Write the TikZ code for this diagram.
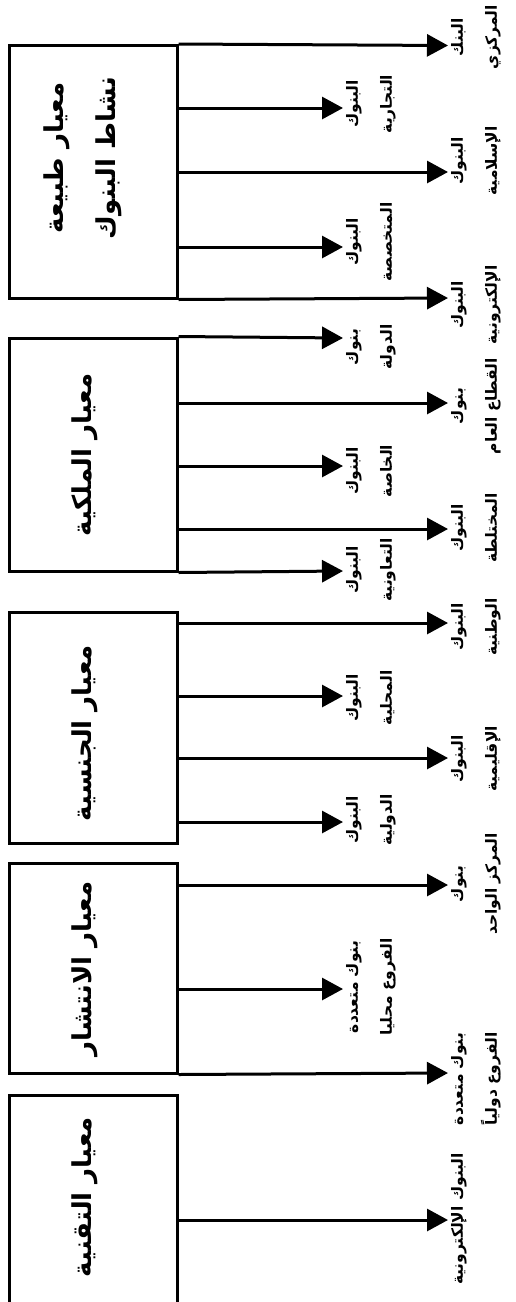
\documentclass[tikz,border=0pt]{standalone}
\usepackage{fontspec}
\usetikzlibrary{arrows.meta}
\TeXXeTstate=1
\newfontfamily\arabicfont[Script=Arabic]{DejaVu Sans}
\tikzset{
  box/.style={draw, line width=3pt, inner sep=0pt, rectangle},
  ttl/.style={rotate=90, font=\arabicfont\bfseries\fontsize{26}{52}\selectfont, align=center, inner sep=0pt},
  lbl/.style={rotate=90, anchor=north, font=\arabicfont\bfseries\fontsize{15.5}{34}\selectfont, align=center, inner sep=0pt},
  arr/.style={line width=3pt, -{Triangle[length=21pt,width=22pt]}},
}
\begin{document}
\begin{tikzpicture}[x=1pt,y=-1pt]
\useasboundingbox (0,0) rectangle (516,1302);
\fill[white] (0,0) rectangle (516,1302);
\clip (0,0) rectangle (516,1302);
% boxes
\node[box, minimum width=167.5pt, minimum height=252.5pt] (b1) at (93.25,171.75) {};
\node[box, minimum width=167.5pt, minimum height=233pt] (b2) at (93.25,454.5) {};
\node[box, minimum width=167.5pt, minimum height=231pt] (b3) at (93.25,727.5) {};
\node[box, minimum width=167.5pt, minimum height=210pt] (b4) at (93.25,968) {};
\node[box, minimum width=167.5pt, minimum height=235pt] (b5) at (93.25,1212.5) {};
% titles
\node[ttl] (t1) at (83,158) {\beginR معيار طبيعة\endR\\\beginR نشاط البنوك\endR};
\node[ttl] (t2) at (85,455) {\beginR معيار الملكية\endR};
\node[ttl] (t3) at (85,733) {\beginR معيار الجنسية\endR};
\node[ttl] (t4) at (85,969) {\beginR معيار الانتشار\endR};
\node[ttl] (t5) at (85,1197) {\beginR معيار التقنية\endR};
% arrow tips
\coordinate (e11) at (448,45.5);
\coordinate (e12) at (343,108);
\coordinate (e13) at (448,172);
\coordinate (e14) at (343,247);
\coordinate (e15) at (448,298);
\coordinate (e21) at (343,338);
\coordinate (e22) at (448,403);
\coordinate (e23) at (343,466);
\coordinate (e24) at (448,529);
\coordinate (e25) at (343,571);
\coordinate (e31) at (448,623);
\coordinate (e32) at (343,696);
\coordinate (e33) at (448,758);
\coordinate (e34) at (343,822);
\coordinate (e41) at (448,885);
\coordinate (e42) at (343,989);
\coordinate (e43) at (448,1073);
\coordinate (e51) at (448,1220);
% connectors
\draw[arr] (b1.north east) -- (e11);
\draw[arr] (b1.east |- e12) -- (e12);
\draw[arr] (b1.east |- e13) -- (e13);
\draw[arr] (b1.east |- e14) -- (e14);
\draw[arr] (b1.south east) -- (e15);
\draw[arr] (b2.north east) -- (e21);
\draw[arr] (b2.east |- e22) -- (e22);
\draw[arr] (b2.east |- e23) -- (e23);
\draw[arr] (b2.east |- e24) -- (e24);
\draw[arr] (b2.south east) -- (e25);
\draw[arr] (b3.east |- e31) -- (e31);
\draw[arr] (b3.east |- e32) -- (e32);
\draw[arr] (b3.east |- e33) -- (e33);
\draw[arr] (b3.east |- e34) -- (e34);
\draw[arr] (b4.east |- e41) -- (e41);
\draw[arr] (b4.east |- e42) -- (e42);
\draw[arr] (b4.south east) -- (e43);
\draw[arr] (b5.east |- e51) -- (e51);
% labels
\node[lbl] (l11) at (451,37) {\beginR البنك\endR\\\beginR المركزي\endR};
\node[lbl] (l12) at (346,104) {\beginR البنوك\endR\\\beginR التجارية\endR};
\node[lbl] (l13) at (451,161) {\beginR البنوك\endR\\\beginR الإسلامية\endR};
\node[lbl] (l14) at (346,242) {\beginR البنوك\endR\\\beginR المتخصصة\endR};
\node[lbl] (l15) at (451,305) {\beginR البنوك\endR\\\beginR الإلكترونية\endR};
\node[lbl] (l21) at (346,347) {\beginR بنوك\endR\\\beginR الدولة\endR};
\node[lbl] (l22) at (451,406) {\beginR بنوك\endR\\\beginR القطاع العام\endR};
\node[lbl] (l23) at (346,471) {\beginR البنوك\endR\\\beginR الخاصة\endR};
\node[lbl] (l24) at (451,528) {\beginR البنوك\endR\\\beginR المختلطة\endR};
\node[lbl] (l25) at (346,570) {\beginR البنوك\endR\\\beginR التعاونية\endR};
\node[lbl] (l31) at (451,627) {\beginR البنوك\endR\\\beginR الوطنية\endR};
\node[lbl] (l32) at (346,698) {\beginR البنوك\endR\\\beginR المحلية\endR};
\node[lbl] (l33) at (451,759) {\beginR البنوك\endR\\\beginR الإقليمية\endR};
\node[lbl] (l34) at (346,820) {\beginR البنوك\endR\\\beginR الدولية\endR};
\node[lbl] (l41) at (451,884) {\beginR بنوك\endR\\\beginR المركز الواحد\endR};
\node[lbl] (l42) at (346,987) {\beginR بنوك متعددة\endR\\\beginR الفروع محليا\endR};
\node[lbl] (l43) at (451,1079) {\beginR بنوك متعددة\endR\\\beginR الفروع دولياً\endR};
\node[lbl] (l51) at (451,1219) {\beginR البنوك الإلكترونية\endR};
\end{tikzpicture}
\end{document}
